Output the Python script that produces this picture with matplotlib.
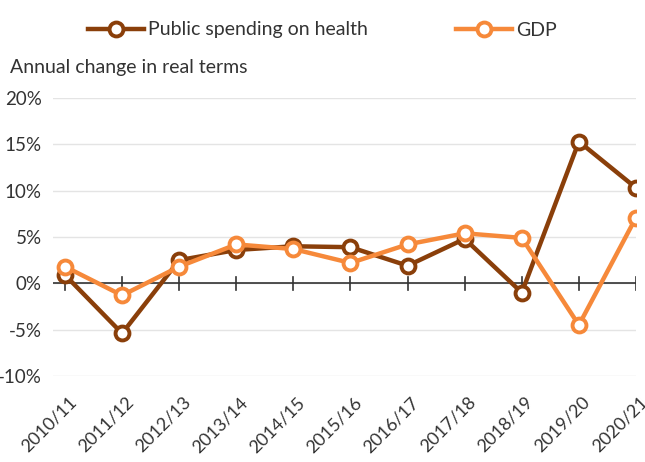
import matplotlib
matplotlib.use("Agg")
import matplotlib.pyplot as plt
from matplotlib.ticker import FuncFormatter
from matplotlib.transforms import ScaledTranslation

years = ["2010/11", "2011/12", "2012/13", "2013/14", "2014/15", "2015/16",
         "2016/17", "2017/18", "2018/19", "2019/20", "2020/21"]
health = [0.9, -5.4, 2.5, 3.6, 4.0, 3.9, 1.9, 4.8, -1.0, 15.3, 10.3]
gdp = [1.8, -1.3, 1.8, 4.2, 3.7, 2.2, 4.2, 5.4, 4.9, -4.5, 7.1]
yticks = [-10, -5, 0, 5, 10, 15, 20]

DARK = "#8A3F0A"
ORANGE = "#F6893A"
TEXT = "#333333"

plt.rcParams["font.family"] = ["Lato", "DejaVu Sans"]

fig = plt.figure(figsize=(6.45, 4.62), dpi=100)
ax = fig.add_axes([53 / 645, 86 / 462, (636 - 53) / 645, (376 - 98) / 462])

x = list(range(len(years)))
style = dict(lw=3.2, marker="o", ms=10, mew=2.8, mfc="white", zorder=3)
ax.plot(x, health, color=DARK, label="Public spending on health", **style)
ax.plot(x, gdp, color=ORANGE, label="GDP", **style)

ax.set_ylim(-10, 20)
ax.set_xlim(-0.21, 10)
ax.set_yticks(yticks)
ax.yaxis.set_major_formatter(FuncFormatter(lambda v, p: f"{v:.0f}%"))
ax.grid(axis="y", color="#e4e4e4", lw=1)
ax.set_axisbelow(True)
for s in ax.spines.values():
    s.set_visible(False)
ax.axhline(0, color="#333333", lw=1.2, zorder=2)

# ticks crossing the zero line
for xi in x:
    ax.plot([xi, xi], [-0.7, 0.7], color="#333333", lw=1.2, zorder=2)

ax.set_xticks(x)
ax.set_xticklabels(years, rotation=45, ha="right", rotation_mode="anchor")
ax.tick_params(axis="x", length=0, pad=13, labelsize=13, labelcolor=TEXT)
ax.tick_params(axis="y", length=0, pad=8, labelsize=13.5, labelcolor=TEXT)
shift = ScaledTranslation(3 / 100, 0, fig.dpi_scale_trans)
for lab in ax.get_xticklabels():
    lab.set_transform(lab.get_transform() + shift)

fig.text(10 / 645, 1 - 68 / 462, "Annual change in real terms", fontsize=14,
         color=TEXT, va="center")

ax.legend(loc="center left", bbox_to_anchor=(88 / 645, 1 - 30 / 462),
          bbox_transform=fig.transFigure, ncol=2, frameon=False,
          fontsize=14, handlelength=2.9, handletextpad=0.2, columnspacing=4.5,
          labelcolor=TEXT, borderaxespad=0, borderpad=0)

fig.savefig("out.png", dpi=100)
